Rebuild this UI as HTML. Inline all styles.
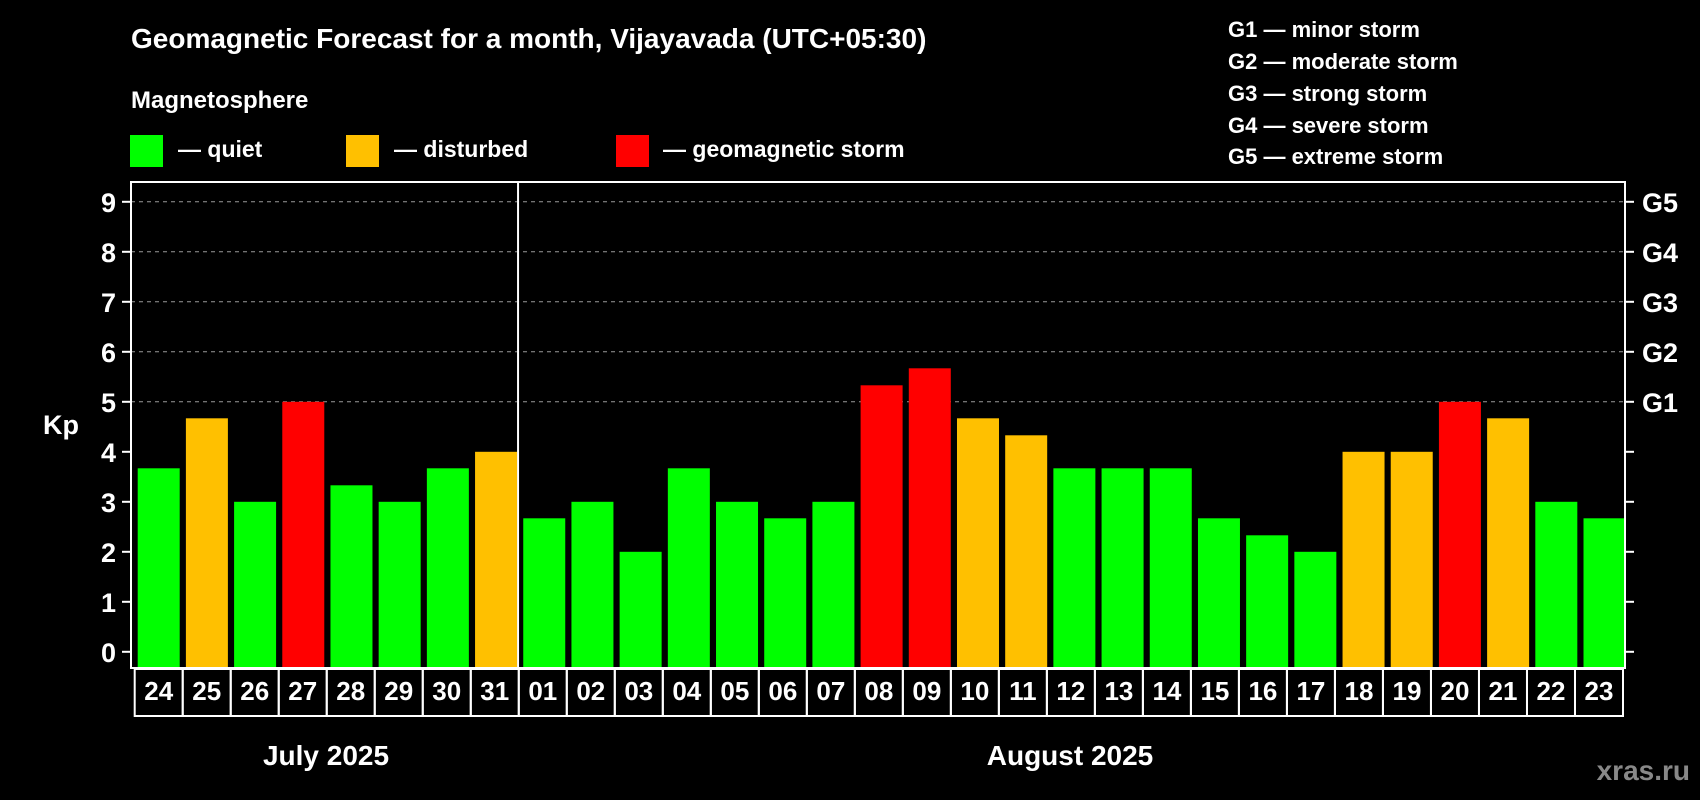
<!DOCTYPE html>
<html><head><meta charset="utf-8"><style>
html,body{margin:0;padding:0;background:#000;}
svg{display:block;font-family:"Liberation Sans",Arial,sans-serif;font-weight:bold;}
</style></head><body>
<svg id="chart" width="1700" height="800" viewBox="0 0 1700 800">
<rect x="0" y="0" width="1700" height="800" fill="#000"/>
<text x="131" y="48" font-size="28" fill="#fff">Geomagnetic Forecast for a month, Vijayavada (UTC+05:30)</text>
<text x="131" y="108" font-size="24" fill="#fff">Magnetosphere</text>
<g>
<rect x="130" y="135" width="33" height="32" fill="#00ff00"/>
<text x="178" y="157" font-size="23" fill="#fff">— quiet</text></g>
<g>
<rect x="346" y="135" width="33" height="32" fill="#ffc000"/>
<text x="394" y="157" font-size="23" fill="#fff">— disturbed</text></g>
<g>
<rect x="616" y="135" width="33" height="32" fill="#ff0000"/>
<text x="663" y="157" font-size="23" fill="#fff">— geomagnetic storm</text></g>
<g font-size="22" fill="#fff">
<text x="1228" y="37">G1 — minor storm</text>
<text x="1228" y="69">G2 — moderate storm</text>
<text x="1228" y="101">G3 — strong storm</text>
<text x="1228" y="133">G4 — severe storm</text>
<text x="1228" y="164">G5 — extreme storm</text>
</g>
<text x="43" y="434" font-size="27" fill="#fff">Kp</text>
<text x="326" y="765" font-size="28" fill="#fff" text-anchor="middle">July 2025</text>
<text x="1070" y="765" font-size="28" fill="#fff" text-anchor="middle">August 2025</text>
<text x="1690" y="780" font-size="28" fill="#888" text-anchor="end">xras.ru</text>
<g id="grid"></g><g id="bars"></g><g id="axes"></g><g id="labels"></g>
</svg>
<script>
const days = ["24","25","26","27","28","29","30","31","01","02","03","04","05","06","07","08","09","10","11","12","13","14","15","16","17","18","19","20","21","22","23"];
const kpValues = [3.67,4.67,3,5,3.33,3,3.67,4,2.67,3,2,3.67,3,2.67,3,5.33,5.67,4.67,4.33,3.67,3.67,3.67,2.67,2.33,2,4,4,5,4.67,3,2.67];
const yTicks = [0,1,2,3,4,5,6,7,8,9];
const gridLevels = [5,6,7,8,9];
const gLabels = ["G1","G2","G3","G4","G5"];
const monthBreakIndex = 8;

const NS = "http://www.w3.org/2000/svg";
const L = 131, R = 1625, T = 182, B = 668;
const slot = (R - L) / days.length;
function xs(i){ return L + i * slot; }
function ys(v){ return 651.8 - 50 * v; }
function mk(tag, attrs, parent){
  const e = document.createElementNS(NS, tag);
  for (const k in attrs) e.setAttribute(k, attrs[k]);
  parent.appendChild(e);
  return e;
}
function colorFor(v){ return v >= 5 ? "#ff0000" : (v >= 4 ? "#ffc000" : "#00ff00"); }

const grid = document.getElementById("grid");
gridLevels.forEach(function(g){
  const ln = mk("line", {x1:L, x2:R, y1:ys(g), y2:ys(g), stroke:"#999", "stroke-width":1, "stroke-dasharray":"4,4"}, grid);
  
  
});

const bars = document.getElementById("bars");
kpValues.forEach(function(v, i){
  const top = ys(v);
  const r = mk("rect", {x:xs(i)+6.7, y:top, width:42, height:B-top, fill:colorFor(v)}, bars);
  
  
});

const axes = document.getElementById("axes");
const frame = mk("rect", {x:L, y:T, width:R-L, height:B-T, fill:"none", stroke:"#fff", "stroke-width":2}, axes);


const div = mk("line", {x1:xs(monthBreakIndex)+1.5, x2:xs(monthBreakIndex)+1.5, y1:T, y2:B, stroke:"#fff", "stroke-width":2}, axes);


yTicks.forEach(function(t){
  const y = ys(t);
  const lt = mk("line", {x1:122, x2:L, y1:y, y2:y, stroke:"#fff", "stroke-width":2}, axes);
  
  
  const rt = mk("line", {x1:R, x2:R+9, y1:y, y2:y, stroke:"#fff", "stroke-width":2}, axes);
  
  
  const tx = mk("text", {x:116, y:y+10, "font-size":27, fill:"#fff", "text-anchor":"end"}, axes);
  tx.textContent = String(t);
  
  
});
gLabels.forEach(function(g, i){
  const tx = mk("text", {x:1642, y:ys(5+i)+10, "font-size":27, fill:"#fff"}, axes);
  tx.textContent = g;
  
  
});

const labels = document.getElementById("labels");
const bx0 = 134.7, bw = (1623 - 134.7) / days.length;
days.forEach(function(d, i){
  const r = mk("rect", {x:bx0+i*bw, y:669, width:bw, height:47, fill:"none", stroke:"#fff", "stroke-width":2}, labels);
  
  
  const t = mk("text", {x:bx0+i*bw+bw/2, y:700, "font-size":26, fill:"#fff", "text-anchor":"middle"}, labels);
  t.textContent = d;
  
  
});
</script>
</body></html>
